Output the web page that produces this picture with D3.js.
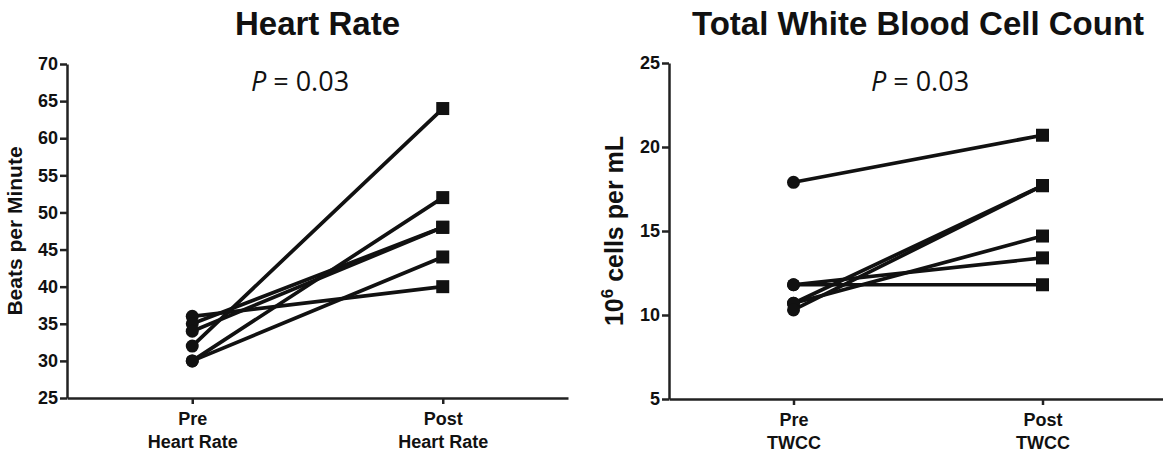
<!DOCTYPE html>
<html>
<head>
<meta charset="utf-8">
<script src="https://cdn.jsdelivr.net/npm/d3@7"></script>
<style>
  body { margin: 0; background: #fff; }
  svg { display: block; }
  .tick text { font-family: "Liberation Sans", Arial, sans-serif; font-weight: bold; font-size: 18px; fill: #111; }
</style>
</head>
<body>
<svg id="chart" width="1163" height="457"></svg>
<script>
// ---- data ----
const hrCategories = ["Pre", "Post"];
const hrCategoryLines = [["Pre", "Heart Rate"], ["Post", "Heart Rate"]];
const hrPre  = [36, 35, 34, 32, 30, 30];
const hrPost = [40, 48, 48, 64, 52, 44];
const hrTicks = [25, 30, 35, 40, 45, 50, 55, 60, 65, 70];

const wbcCategories = ["Pre", "Post"];
const wbcCategoryLines = [["Pre", "TWCC"], ["Post", "TWCC"]];
const wbcPre  = [17.9, 11.8, 11.8, 10.7, 10.7, 10.3];
const wbcPost = [20.7, 11.8, 13.4, 17.7, 14.7, 17.7];
const wbcTicks = [5, 10, 15, 20, 25];

const svg = d3.select("#chart");
const INK = "#111";
const AXIS = "#222";

function panel(opt) {
  const x = d3.scalePoint().domain(opt.categories).range(opt.xRange).padding(0.5);
  const y = d3.scaleLinear().domain(opt.yDomain).range(opt.yRange);
  const g = svg.append("g");

  // y axis
  const ya = g.append("g")
    .attr("transform", `translate(${opt.xRange[0]},0)`)
    .call(d3.axisLeft(y).tickValues(opt.yTicks).tickSize(7).tickSizeOuter(0).tickPadding(2));
  ya.select(".domain").attr("stroke", AXIS).attr("stroke-width", 2.5);
  ya.selectAll(".tick line").attr("stroke", AXIS).attr("stroke-width", 2.5);

  // x axis
  const xa = g.append("g")
    .attr("transform", `translate(0,${opt.yRange[0]})`)
    .call(d3.axisBottom(x).tickSize(6).tickSizeOuter(0).tickFormat(""));
  xa.select(".domain").attr("stroke", AXIS).attr("stroke-width", 2.5);
  xa.selectAll(".tick line").attr("stroke", AXIS).attr("stroke-width", 2.5);
  xa.selectAll(".tick text").remove();
  xa.selectAll(".tick").each(function(d, i) {
    const t = d3.select(this).append("text")
      .attr("text-anchor", "middle")
      .attr("y", 27)
      .style("font-family", "'Liberation Sans', Arial, sans-serif")
      .style("font-weight", "bold")
      .style("font-size", "18px")
      .attr("fill", INK);
    opt.catLines[i].forEach((ln, j) => {
      t.append("tspan").attr("x", 0).attr("dy", j === 0 ? 0 : 23).text(ln);
    });
  });

  // paired lines
  const pairs = opt.pre.map((v, i) => [v, opt.post[i]]);
  g.append("g").selectAll("line").data(pairs).join("line")
    .attr("x1", x(opt.categories[0])).attr("y1", d => y(d[0]))
    .attr("x2", x(opt.categories[1])).attr("y2", d => y(d[1]))
    .attr("stroke", INK).attr("stroke-width", 3.7).attr("stroke-linecap", "round");

  // markers
  g.append("g").selectAll("circle").data(opt.pre).join("circle")
    .attr("cx", x(opt.categories[0])).attr("cy", d => y(d)).attr("r", 6.5).attr("fill", INK);
  const s = 13;
  g.append("g").selectAll("rect").data(opt.post).join("rect")
    .attr("x", x(opt.categories[1]) - s / 2).attr("y", d => y(d) - s / 2)
    .attr("width", s).attr("height", s).attr("fill", INK);

  // title
  g.append("text")
    .attr("x", (opt.xRange[0] + opt.xRange[1]) / 2).attr("y", 35)
    .attr("text-anchor", "middle")
    .style("font-family", "'Liberation Sans', Arial, sans-serif")
    .style("font-weight", "bold").style("font-size", "33px")
    .attr("fill", INK).text(opt.title);

  // P value
  const p = g.append("text")
    .attr("x", opt.pX).attr("y", 91).attr("text-anchor", "middle")
    .style("font-family", "'Open Sans', 'Liberation Sans', sans-serif")
    .style("font-size", "27px").attr("fill", INK);
  p.append("tspan").style("font-style", "italic").text("P");
  p.append("tspan").text(" = 0.03");

  return { g, x, y };
}

const left = panel({
  categories: hrCategories, catLines: hrCategoryLines,
  pre: hrPre, post: hrPost,
  xRange: [67, 568], yRange: [398, 64], yDomain: [25, 70], yTicks: hrTicks,
  title: "Heart Rate", pX: 300
});
left.g.append("text")
  .attr("transform", "translate(22,231) rotate(-90)")
  .attr("text-anchor", "middle")
  .style("font-family", "'Liberation Sans', Arial, sans-serif")
  .style("font-weight", "bold").style("font-size", "21px")
  .attr("fill", INK).text("Beats per Minute");

const right = panel({
  categories: wbcCategories, catLines: wbcCategoryLines,
  pre: wbcPre, post: wbcPost,
  xRange: [669, 1167], yRange: [399, 63], yDomain: [5, 25], yTicks: wbcTicks,
  title: "Total White Blood Cell Count", pX: 920
});
const yl = right.g.append("text")
  .attr("transform", "translate(623,231) rotate(-90)")
  .attr("text-anchor", "middle")
  .style("font-family", "'Liberation Sans', Arial, sans-serif")
  .style("font-weight", "bold").style("font-size", "25px")
  .attr("fill", INK);
yl.append("tspan").text("10");
yl.append("tspan").attr("dy", -10).style("font-size", "17px").text("6");
yl.append("tspan").attr("dy", 10).text(" cells per mL");
</script>
</body>
</html>
